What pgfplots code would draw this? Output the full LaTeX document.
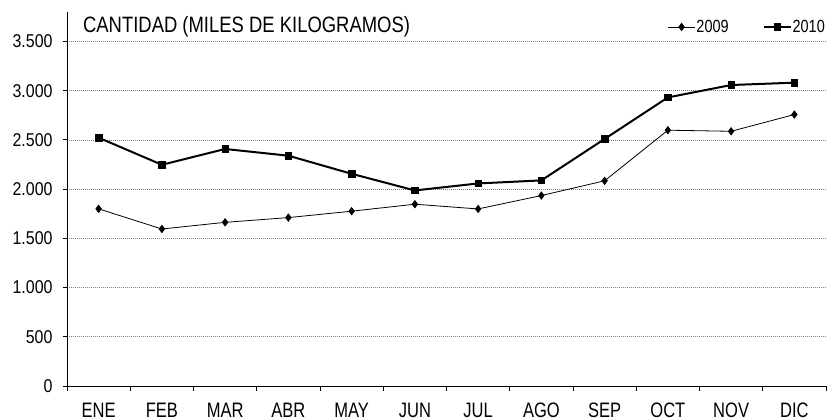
\documentclass[border=0pt]{standalone}
\usepackage{pgfplots}
\pgfplotsset{compat=1.18}
\usepackage{fontspec}
\setmainfont{Liberation Sans}[FakeStretch=0.84]
\newfontfamily\monthfont{Liberation Sans}[FakeStretch=0.79]
\newfontfamily\tickfont{Liberation Sans}[FakeStretch=0.86]
\newfontfamily\legfont{Liberation Sans}[FakeStretch=0.82]
\newfontfamily\titlefont{Liberation Sans}[FakeStretch=0.83]
\begin{document}
\begin{tikzpicture}
\begin{axis}[
  scale only axis,
  width=759bp, height=374bp,
  xmin=-0.5, xmax=11.5,
  ymin=0, ymax=3800,
  axis x line*=bottom, axis y line*=left,
  axis line style={black, line width=0.9bp, -},
  xtick={0,...,11},
  xticklabels={ENE,FEB,MAR,ABR,MAY,JUN,JUL,AGO,SEP,OCT,NOV,DIC},
  major x tick style={draw=none},
  minor xtick={-0.5,0.5,...,11.5},
  minor tick length=5bp,
  minor x tick style={black, line width=0.9bp},
  xtick align=outside,
  ytick={0,500,...,3500},
  ytick align=outside,
  major tick length=4bp,
  y tick style={black, line width=0.9bp},
  ymajorgrids,
  major y grid style={gray, line width=0.7bp, dash pattern=on 1bp off 1bp},
  /pgf/number format/.cd, 1000 sep={.}, assume math mode=true,
  /pgfplots/.cd,
  x tick label style={font=\monthfont\fontsize{21}{23}\selectfont, anchor=base, yshift=-27bp},
  y tick label style={font=\tickfont\fontsize{18.6}{21}\selectfont, xshift=-7bp},
  legend columns=2,
  legend style={draw=none, fill=none, at={(rel axis cs:1,0.96)}, anchor=east,
    inner sep=0pt, font=\legfont\fontsize{17.7}{19}\selectfont,
    /tikz/column 2/.style={column sep=33bp},
    nodes={inner sep=1pt}},
  legend image code/.code={\draw[mark repeat=2,mark phase=2,#1] plot coordinates {(0bp,0bp) (13.5bp,0bp) (27bp,0bp)};},
  clip=false,
]
\addplot[black, line width=0.8bp, mark=diamond*, mark size=3.6bp, mark options={solid, fill=black}]
  coordinates {(0,1800)(1,1595)(2,1663)(3,1711)(4,1776)(5,1847)(6,1799)(7,1935)(8,2085)(9,2599)(10,2588)(11,2758)};
\addlegendentry{2009}
\addplot[black, line width=2bp, mark=square*, mark size=3.3bp, mark options={solid, fill=black, line width=0.5bp}]
  coordinates {(0,2523)(1,2248)(2,2408)(3,2340)(4,2156)(5,1987)(6,2058)(7,2089)(8,2510)(9,2932)(10,3058)(11,3082)};
\addlegendentry{2010}
\node[anchor=base west, inner sep=0pt, font=\titlefont\fontsize{22.3}{24}\selectfont] at (rel axis cs:0.021,0.946) {CANTIDAD (MILES DE KILOGRAMOS)};
\end{axis}
\pgfresetboundingbox
\path (current axis.south west) ++(-67bp,-34bp) rectangle ++(829bp,420bp);
\end{tikzpicture}
\end{document}
